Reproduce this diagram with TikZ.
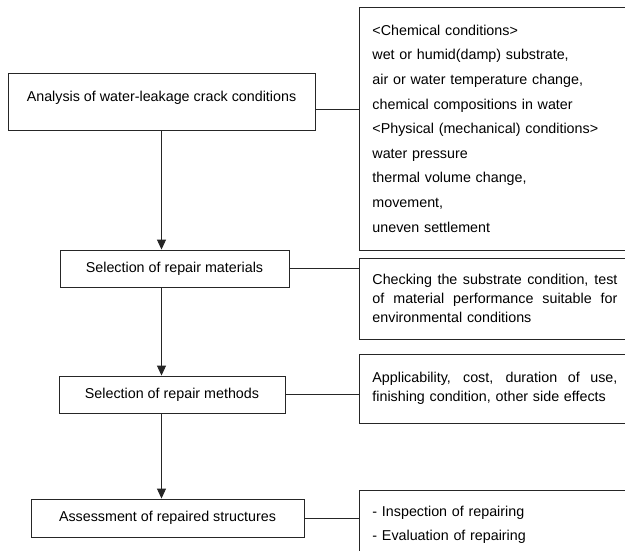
\documentclass[tikz,border=0pt]{standalone}
\usepackage{fontspec}
\setmainfont{Liberation Sans}
\usetikzlibrary{arrows.meta}
\newcommand\fullline[1]{\makebox[245pt][s]{\spaceskip=0pt\xspaceskip=0pt\relax #1}}

\begin{document}
\begin{tikzpicture}[x=1pt,y=-1pt,
    every node/.style={draw=black!85,line width=0.9pt,text=black,inner xsep=13pt,inner ysep=0pt},
    stage/.style={minimum height=37pt,font=\fontsize{14.3}{17}\selectfont},
    note/.style={anchor=west,text width=245pt,align=left},
    flow/.style={draw=black!85,line width=0.9pt,-{Triangle[length=10pt,width=9pt]}},
    link/.style={draw=black!85,line width=0.9pt}]
  \useasboundingbox (0,0) rectangle (625,550);
  % steps on the left
  \node[stage,minimum width=307pt,minimum height=57pt,text height=28pt,text depth=29pt] (ana) at (161.5,101.5) {Analysis of water-leakage crack conditions};
  \node[stage,minimum width=229pt] (mat) at (174.5,268.5) {Selection of repair materials};
  \node[stage,minimum width=226pt] (meth) at (172,394.5) {Selection of repair methods};
  \node[stage,minimum width=273pt,minimum height=38pt] (ass) at (167.5,518) {Assessment of repaired structures};
  % notes on the right
  \node[note,minimum height=243pt,font=\fontsize{14.3}{24.6}\selectfont] (chem) at (359,128.5) {<Chemical conditions>\\ wet or humid(damp) substrate,\\ air or water temperature change,\\ chemical compositions in water\\ <Physical (mechanical) conditions>\\ water pressure\\ thermal volume change,\\ movement,\\ uneven settlement};
  \node[note,minimum height=81pt,font=\fontsize{14.3}{19}\selectfont] (check) at (359,298.5) {\fullline{Checking the substrate condition, test}\\ \fullline{of material performance suitable for}\\ environmental conditions};
  \node[note,minimum height=69pt,font=\fontsize{14.3}{19}\selectfont] (app) at (359,388.5) {\fullline{Applicability, cost, duration of use,}\\ finishing condition, other side effects};
  \node[note,minimum height=70pt,font=\fontsize{14.3}{24}\selectfont] (insp) at (359,525) {- Inspection of repairing\\ - Evaluation of repairing};
  % connectors
  \coordinate (tap) at ([yshift=-7.5pt]ana.east);
  \path[link] (tap) -- (tap -| chem.west);
  \path[link] (mat.east) -- (mat.east -| check.west);
  \path[link] (meth.east) -- (meth.east -| app.west);
  \path[link] (ass.east) -- (ass.east -| insp.west);
  \path[flow] (ana.south) -- (ana.south |- mat.north);
  \path[flow] (ana.south |- mat.south) -- (ana.south |- meth.north);
  \path[flow] (ana.south |- meth.south) -- (ana.south |- ass.north);
\end{tikzpicture}
\end{document}
